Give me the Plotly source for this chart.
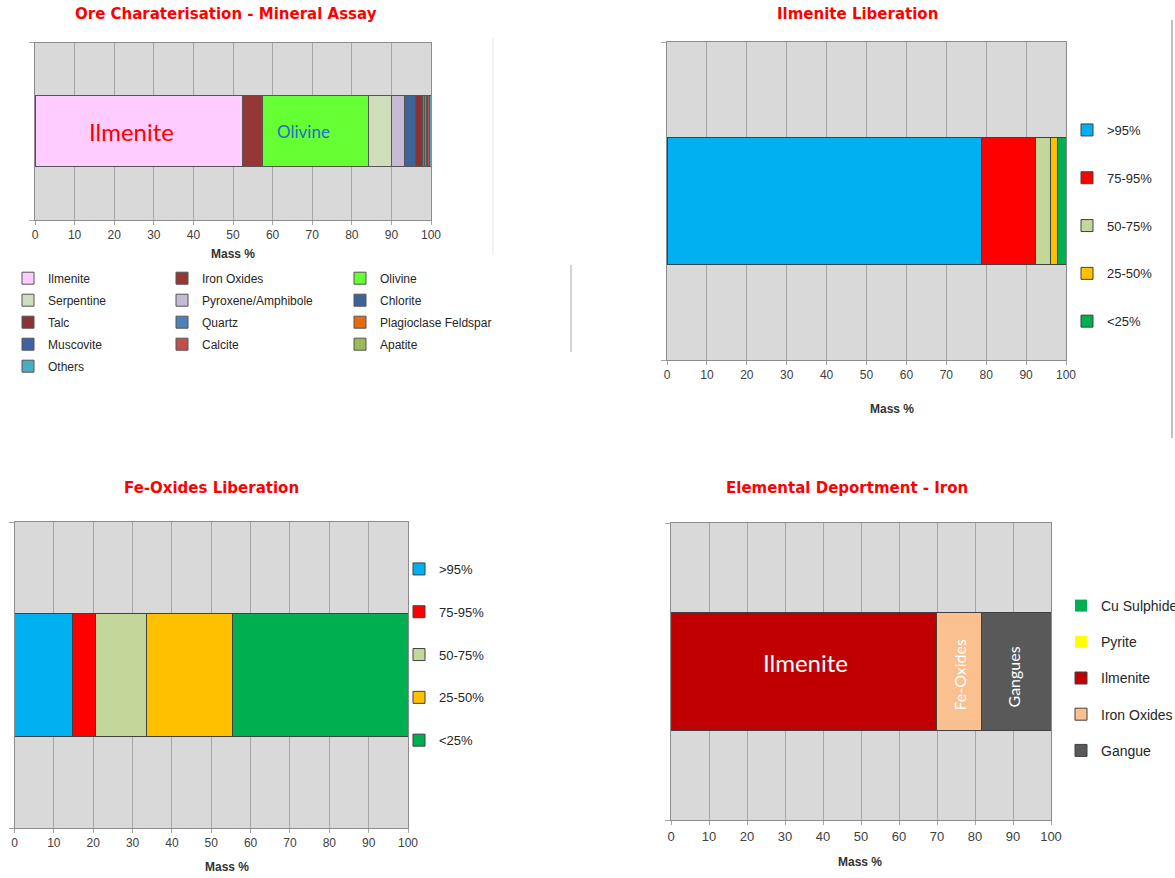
import plotly.graph_objects as go

W, H = 1175, 878


def px(x):
    return x / W


def py(y):
    return 1 - y / H


# ---------------- data ----------------
assay_minerals = ["Ilmenite", "Iron Oxides", "Olivine", "Serpentine", "Pyroxene/Amphibole",
                  "Chlorite", "Talc", "Quartz", "Plagioclase Feldspar", "Muscovite",
                  "Calcite", "Apatite", "Others"]
assay_mass = [52.3, 5.2, 26.8, 5.6, 3.4, 2.7, 1.9, 0.4, 0.5, 0.2, 0.5, 0.1, 0.4]

lib_classes = [">95%", "75-95%", "50-75%", "25-50%", "<25%"]
ilmenite_lib = [78.9, 13.4, 3.8, 1.8, 2.1]
feox_lib = [14.8, 5.8, 12.9, 22.0, 44.5]

iron_phases = ["Cu Sulphides", "Pyrite", "Ilmenite", "Iron Oxides", "Gangue"]
iron_dep = [0.0, 0.0, 69.8, 11.9, 18.3]

mass_ticks = [0, 10, 20, 30, 40, 50, 60, 70, 80, 90, 100]

# ---------------- styles ----------------
assay_colors = ["#FFCCFF", "#953735", "#66FF33", "#D0DDBB", "#C6BBD6", "#3C6496",
                "#8B3333", "#4F81BD", "#E46C0A", "#3F62A6", "#C0504D", "#9BBB59", "#4BACC6"]
lib_colors = ["#00B0F0", "#FF0000", "#C4D79B", "#FFC000", "#00B050"]
iron_colors = ["#00B050", "#FFFF00", "#C00000", "#FAC090", "#595959"]

fig = go.Figure()

# chart 1: mineral assay, legend split in three columns
for i, (name, val) in enumerate(zip(assay_minerals, assay_mass)):
    col = i % 3
    fig.add_trace(go.Bar(
        x=[val], y=[0], orientation="h", name=name,
        marker=dict(color=assay_colors[i], line=dict(color="#555555", width=1)),
        xaxis="x", yaxis="y",
        legend=["legend", "legend2", "legend3"][col],
        legendgroup="a%d" % i,
    ))

# chart 2: ilmenite liberation
for i, (name, val) in enumerate(zip(lib_classes, ilmenite_lib)):
    fig.add_trace(go.Bar(
        x=[val], y=[0], orientation="h", name=name,
        marker=dict(color=lib_colors[i], line=dict(color="#404040", width=1)),
        xaxis="x2", yaxis="y2", legend="legend4", legendgroup="b%d" % i,
    ))

# chart 3: Fe-oxides liberation
for i, (name, val) in enumerate(zip(lib_classes, feox_lib)):
    fig.add_trace(go.Bar(
        x=[val], y=[0], orientation="h", name=name,
        marker=dict(color=lib_colors[i], line=dict(color="#404040", width=1)),
        xaxis="x3", yaxis="y3", legend="legend5", legendgroup="c%d" % i,
    ))

# chart 4: elemental deportment of iron
for i, (name, val) in enumerate(zip(iron_phases, iron_dep)):
    fig.add_trace(go.Bar(
        x=[val], y=[0], orientation="h", name=name,
        marker=dict(color=iron_colors[i], line=dict(color="#404040", width=1 if val > 0 else 0)),
        xaxis="x4", yaxis="y4", legend="legend6", legendgroup="d%d" % i,
    ))

# ---------------- axes ----------------
domains = {
    1: ((35, 431), (42.7, 220)),
    2: ((667, 1066), (42, 360)),
    3: ((14.5, 408), (522, 828)),
    4: ((671, 1051), (523, 820)),
}
tick_sizes = {1: 12, 2: 12, 3: 12, 4: 13}
layout_axes = {}
for k, ((x0, x1), (y0, y1)) in domains.items():
    sx = "" if k == 1 else str(k)
    layout_axes["xaxis" + sx] = dict(
        domain=[px(x0), px(x1)], anchor="y" + sx, range=[0, 100],
        tickvals=mass_ticks, showgrid=True, gridcolor="#A6A6A6", gridwidth=1,
        showline=True, linecolor="#8C8C8C", linewidth=1, mirror=True,
        ticks="outside", ticklen=4, tickcolor="#A6A6A6",
        tickfont=dict(family="Liberation Sans, Arial, sans-serif", size=tick_sizes[k], color="#404040"),
        zeroline=False, fixedrange=True,
    )
    layout_axes["yaxis" + sx] = dict(
        domain=[py(y1), py(y0)], anchor="x" + sx, range=[-0.5, 0.5],
        tickvals=[-0.5, 0.5], ticks="outside", ticklen=5, tickcolor="#A6A6A6",
        showticklabels=False, showgrid=False, zeroline=False,
        showline=True, linecolor="#8C8C8C", linewidth=1, mirror=True, fixedrange=True,
    )


# ---------------- legends ----------------
def legend_cfg(x_text, y_first, size, gap, top_pad=15):
    return dict(
        x=px(x_text - 40), y=py(y_first - top_pad), xanchor="left", yanchor="top",
        bgcolor="rgba(0,0,0,0)", borderwidth=0, traceorder="grouped",
        tracegroupgap=gap,
        font=dict(family="Liberation Sans, Arial, sans-serif", size=size, color="#262626"),
    )


# ---------------- annotations ----------------
title_font = dict(family="DejaVu Sans, Liberation Sans, sans-serif", size=15, color="#FF0000")
annotations = [
    dict(text="<b>Ore Charaterisation - Mineral Assay</b>", x=px(226), y=py(14)),
    dict(text="<b>Ilmenite Liberation</b>", x=px(857), y=py(14)),
    dict(text="<b>Fe-Oxides Liberation</b>", x=px(211), y=py(488)),
    dict(text="<b>Elemental Deportment - Iron</b>", x=px(847), y=py(488)),
]
for a in annotations:
    a.update(xref="paper", yref="paper", showarrow=False, font=title_font,
             xanchor="center", yanchor="middle")

axis_title_font = dict(family="Liberation Sans, Arial, sans-serif", size=12, color="#333333")
for (xc, yc) in [(233, 254), (892, 409), (227, 867), (860, 862)]:
    annotations.append(dict(text="<b>Mass %</b>", x=px(xc), y=py(yc), xref="paper", yref="paper",
                            showarrow=False, font=axis_title_font, xanchor="center", yanchor="middle"))

label_family = "Lato, Open Sans, sans-serif"
annotations += [
    dict(text="Ilmenite", x=24.3, y=0, xref="x", yref="y", showarrow=False,
         font=dict(family=label_family, size=24, color="#FF0000")),
    dict(text="Olivine", x=67.8, y=0, xref="x", yref="y", showarrow=False,
         font=dict(family=label_family, size=17, color="#1F6FC8")),
    dict(text="Ilmenite", x=35.3, y=0, xref="x4", yref="y4", showarrow=False, yshift=9,
         font=dict(family=label_family, size=24, color="#FFFFFF")),
    dict(text="Fe-Oxides", x=75.8, y=0, xref="x4", yref="y4", showarrow=False, yshift=-3,
         textangle=-90, font=dict(family=label_family, size=16, color="#FFFFFF")),
    dict(text="Gangues", x=90.0, y=0, xref="x4", yref="y4", showarrow=False, yshift=-6,
         textangle=-90, font=dict(family=label_family, size=16, color="#FFFFFF")),
]

# decorative slide separators
shapes = [
    dict(type="line", xref="paper", yref="paper", x0=px(493), x1=px(493), y0=py(38), y1=py(255),
         line=dict(color="#E6E6E6", width=1)),
    dict(type="line", xref="paper", yref="paper", x0=px(571), x1=px(571), y0=py(265), y1=py(352),
         line=dict(color="#A6A6A6", width=1)),
    dict(type="line", xref="paper", yref="paper", x0=px(1172), x1=px(1172), y0=py(20), y1=py(438),
         line=dict(color="#808080", width=1)),
]

fig.update_layout(
    width=W, height=H,
    margin=dict(l=0, r=0, t=0, b=0, autoexpand=False),
    paper_bgcolor="#FFFFFF", plot_bgcolor="#D9D9D9",
    barmode="stack", bargap=0.6, showlegend=True,
    legend=legend_cfg(48, 277.7, 12, 3, 14),
    legend2=legend_cfg(202, 277.7, 12, 3, 14),
    legend3=legend_cfg(380, 277.7, 12, 3, 14),
    legend4=legend_cfg(1107, 130, 13, 27.9),
    legend5=legend_cfg(439, 569, 13, 22.9),
    legend6=legend_cfg(1101, 605, 14, 15),
    annotations=annotations, shapes=shapes,
    **layout_axes,
)

fig.write_html("out.html", config={"displayModeBar": False},
               post_script="document.body.style.margin='0px';")
